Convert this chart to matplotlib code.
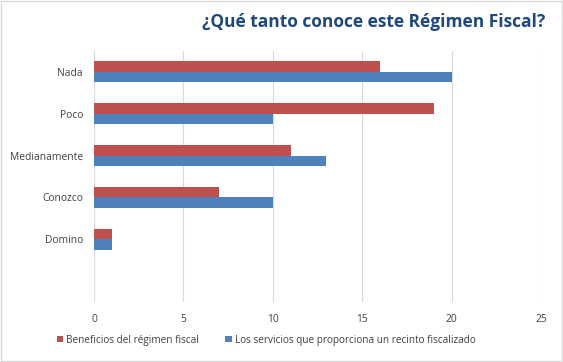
import numpy as np
import matplotlib.pyplot as plt

# datos
categorias = ['Nada', 'Poco', 'Medianamente', 'Conozco', 'Domino']
beneficios = [16, 19, 11, 7, 1]
servicios = [20, 10, 13, 10, 1]
ticks_x = [0, 5, 10, 15, 20, 25]

plt.rcParams['font.family'] = ['Open Sans', 'DejaVu Sans']

fig = plt.figure(figsize=(5.63, 3.62), dpi=100)
ax = fig.add_axes([94/563, 1-302/362, 447/563, 251/362])

y = np.arange(len(categorias))
h = 0.25
ax.barh(y - h/2, beneficios, height=h, color='#C0504D', label='Beneficios del régimen fiscal', zorder=3)
ax.barh(y + h/2, servicios, height=h, color='#4F81BD', label='Los servicios que proporciona un recinto fiscalizado', zorder=3)

ax.set_xlim(0, 25)
ax.set_ylim(5.5, -0.5)
ax.set_xticks(ticks_x)
ax.set_yticks(y)
ax.set_yticklabels(categorias)
ax.grid(axis='x', color='#D9D9D9', lw=0.8, zorder=0)
for s in ax.spines.values():
    s.set_visible(False)
ax.tick_params(length=0, labelsize=7.4, colors='#595959', labelcolor='#404040')
ax.tick_params(axis='x', pad=9)
ax.tick_params(axis='y', pad=8)

fig.text(545/563, 1-22/362, '¿Qué tanto conoce este Régimen Fiscal?', ha='right', va='center',
         fontsize=12.5, fontweight='bold', color='#1F497D')

fig.legend(loc='center', bbox_to_anchor=(266/563, 1-340/362), ncol=2, frameon=False,
           fontsize=7.2, handlelength=0.65, handleheight=0.65, handletextpad=0.3, columnspacing=2.6,
           labelcolor='#404040')

# borde
fig.patches.append(plt.Rectangle((0.001, 0.002), 0.997, 0.996, transform=fig.transFigure,
                                 fill=False, edgecolor='#D9D9D9', lw=1))

fig.savefig('out.png', dpi=100)
